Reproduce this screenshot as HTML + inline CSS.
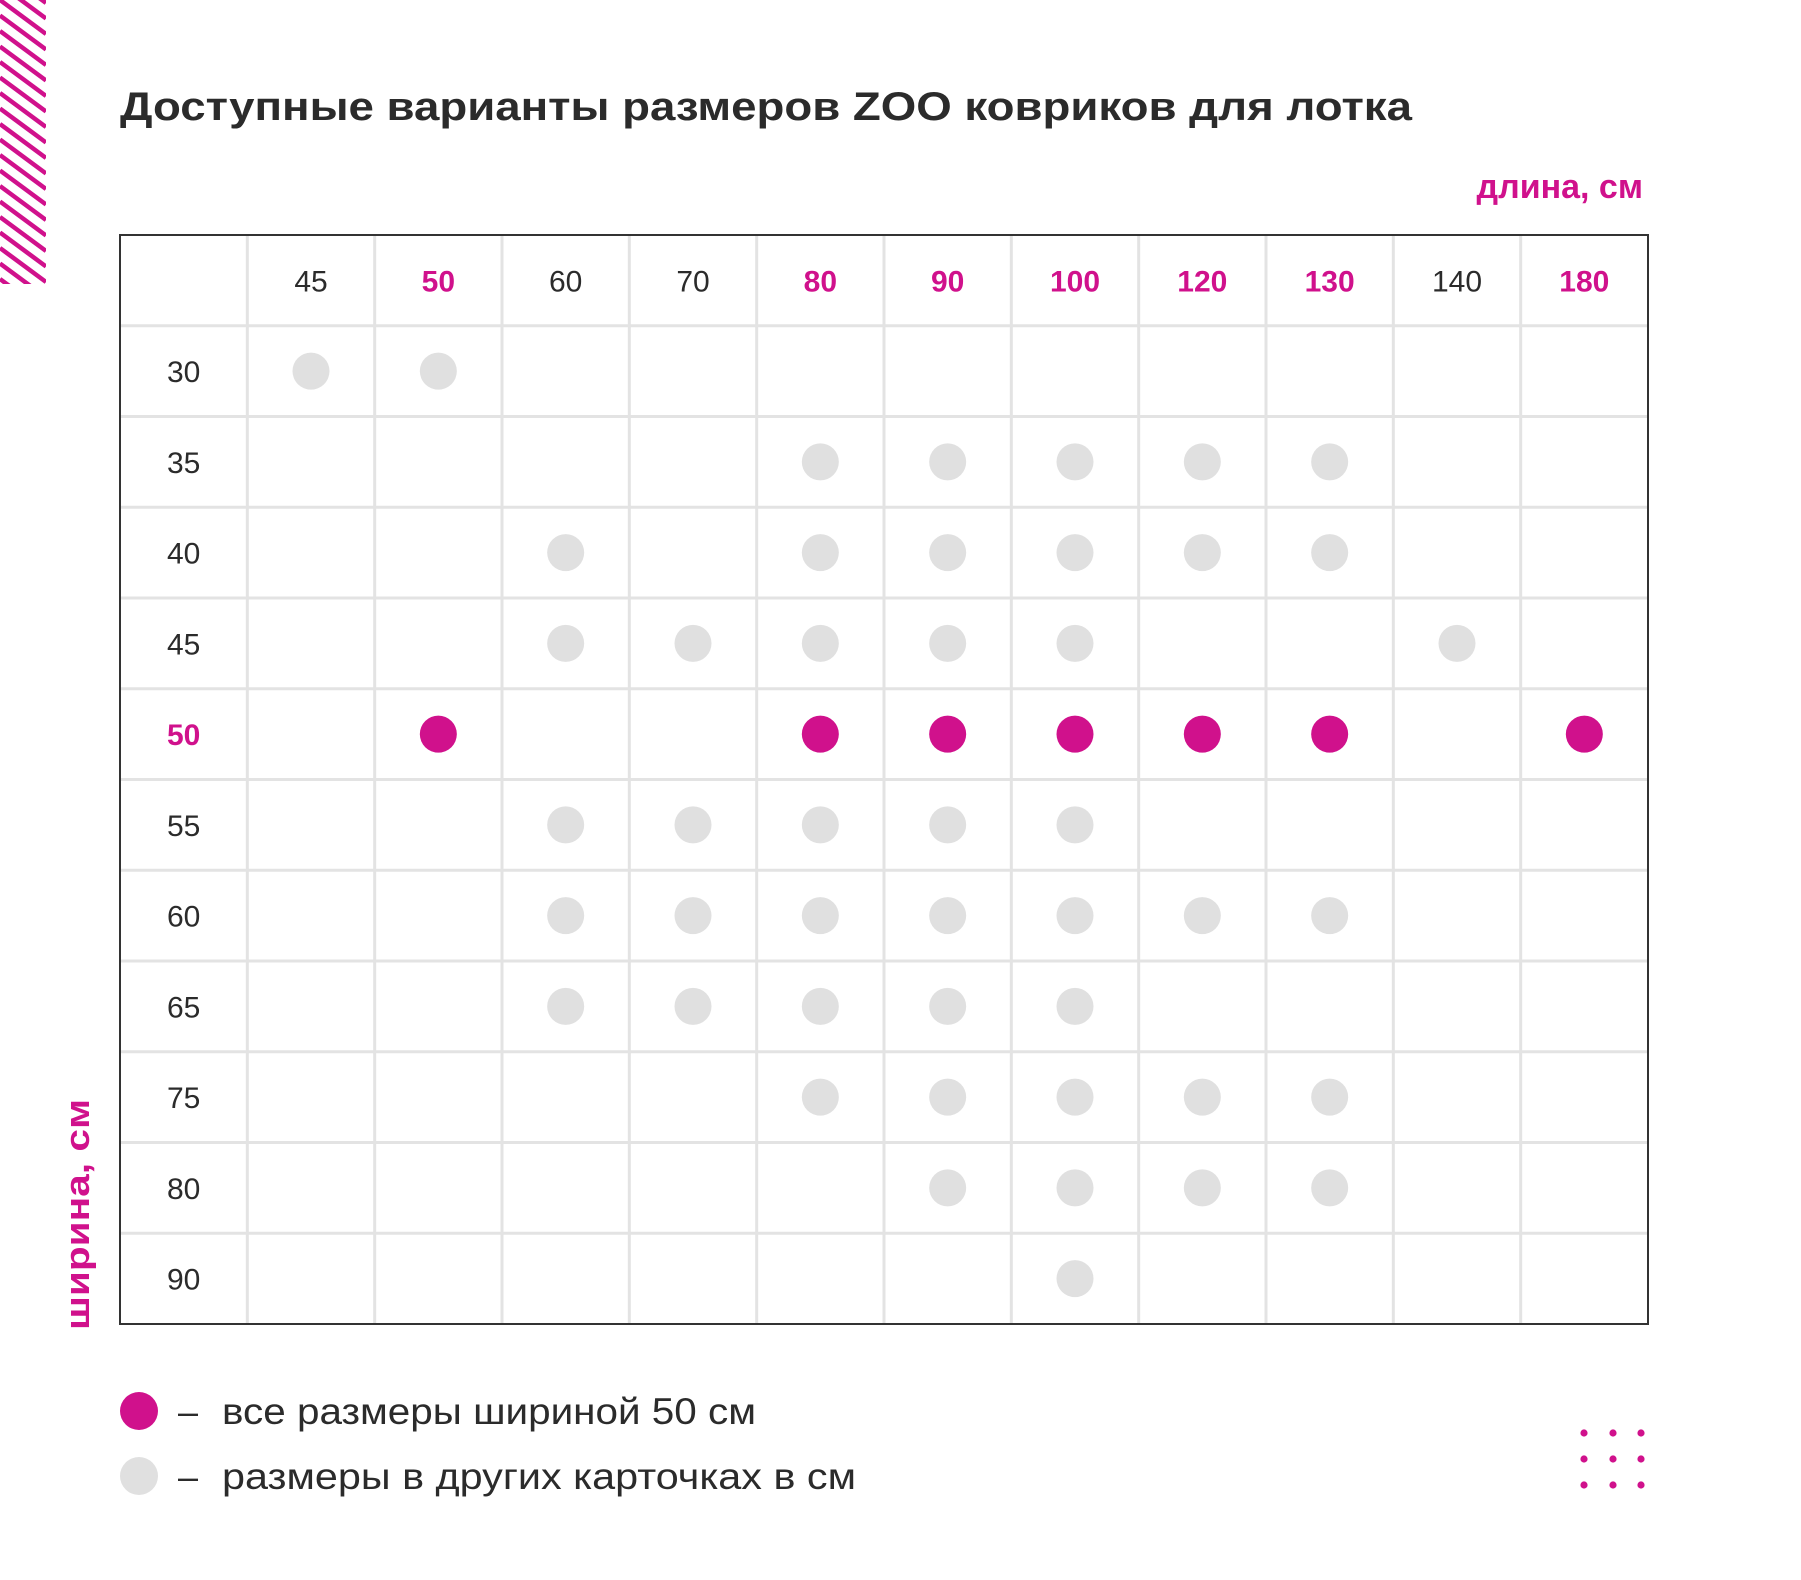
<!DOCTYPE html>
<html><head><meta charset="utf-8"><style>
html,body{margin:0;padding:0;background:#fff;}
svg{display:block;font-family:"Liberation Sans",sans-serif;}
</style></head><body>
<svg id="chart" width="1801" height="1580" viewBox="0 0 1801 1580" xmlns="http://www.w3.org/2000/svg">
<defs><clipPath id="stripeClip"><rect x="0" y="0" width="46" height="284"/></clipPath></defs>
<g id="stripes" clip-path="url(#stripeClip)"></g>
<text x="120" y="120" font-size="40" font-weight="bold" fill="#2b2b2b" textLength="1292" lengthAdjust="spacingAndGlyphs">Доступные варианты размеров ZOO ковриков для лотка</text>
<text x="1643" y="198" font-size="34" font-weight="bold" fill="#d0118c" text-anchor="end">длина, см</text>
<text transform="translate(89,1330) rotate(-90)" font-size="34" font-weight="bold" fill="#d0118c" textLength="231" lengthAdjust="spacingAndGlyphs">ширина, см</text>
<g id="grid"></g>
<g id="marks"></g>
<rect x="120" y="235" width="1528" height="1089" fill="none" stroke="#333" stroke-width="2"/>
<g>
<circle cx="139" cy="1411" r="19" fill="#d0118c"/>
<text x="178" y="1424" font-size="36" fill="#2b2b2b">–</text>
<text x="222" y="1424" font-size="37" fill="#2b2b2b" textLength="534" lengthAdjust="spacingAndGlyphs">все размеры шириной 50 см</text>
<circle cx="139" cy="1476" r="19" fill="#e0e0e0"/>
<text x="178" y="1489" font-size="36" fill="#2b2b2b">–</text>
<text x="222" y="1489" font-size="37" fill="#2b2b2b" textLength="634" lengthAdjust="spacingAndGlyphs">размеры в других карточках в см</text>
</g>
<g id="dots"></g>
</svg>
<script>
const columns = [45,50,60,70,80,90,100,120,130,140,180];
const rows = [30,35,40,45,50,55,60,65,75,80,90];
const highlightColumns = [50,80,90,100,120,130,180];
const highlightRow = 50;
const available = [
 [30,[45,50]],
 [35,[80,90,100,120,130]],
 [40,[60,80,90,100,120,130]],
 [45,[60,70,80,90,100,140]],
 [50,[50,80,90,100,120,130,180]],
 [55,[60,70,80,90,100]],
 [60,[60,70,80,90,100,120,130]],
 [65,[60,70,80,90,100]],
 [75,[80,90,100,120,130]],
 [80,[90,100,120,130]],
 [90,[100]]
];
const NS="http://www.w3.org/2000/svg";
const L=120,T=235,W=1528,H=1089,CW=W/(columns.length+1),RH=H/(rows.length+1);
function xCol(i){return L+CW*(i+1)+CW/2;}
function yRow(i){return T+RH*(i+1)+RH/2;}
function mk(tag,attrs,parent){const e=document.createElementNS(NS,tag);for(const k in attrs)e.setAttribute(k,attrs[k]);parent.appendChild(e);return e;}
const grid=document.getElementById('grid'),marks=document.getElementById('marks');
for(let i=1;i<=columns.length;i++){
 const ln=mk('line',{x1:L+CW*i,x2:L+CW*i,y1:T,y2:T+H,stroke:'#e3e3e3','stroke-width':3},grid);
 
 
}
for(let j=1;j<=rows.length;j++){
 const ln=mk('line',{x1:L,x2:L+W,y1:T+RH*j,y2:T+RH*j,stroke:'#e3e3e3','stroke-width':3},grid);
 
 
}
columns.forEach((c,i)=>{
 const hl=highlightColumns.includes(c);
 const t=mk('text',{x:xCol(i),y:T+RH/2+11,'text-anchor':'middle','font-size':30,'font-weight':hl?'bold':'normal',fill:hl?'#d0118c':'#2b2b2b'},marks);
 t.textContent=c;
 
 
});
rows.forEach((r,j)=>{
 const hl=r===highlightRow;
 const t=mk('text',{x:L+CW/2,y:yRow(j)+11,'text-anchor':'middle','font-size':30,'font-weight':hl?'bold':'normal',fill:hl?'#d0118c':'#2b2b2b'},marks);
 t.textContent=r;
 
 
});
available.forEach(([r,cols])=>{
 const j=rows.indexOf(r);
 cols.forEach(c=>{
  const i=columns.indexOf(c);
  const hl=r===highlightRow;
  const d=mk('circle',{cx:xCol(i),cy:yRow(j),r:18.5,fill:hl?'#d0118c':'#e0e0e0'},marks);
  
  
 });
});
const stripes=document.getElementById('stripes');
for(let k=-6;k<22;k++){
 const y0=k*15.5;
 const s=mk('line',{x1:0,y1:y0,x2:46,y2:y0+34,stroke:'#d0118c','stroke-width':4.5},stripes);
 
 
}
const dots=document.getElementById('dots');
[1584,1613,1641].forEach(x=>[1433,1459,1485].forEach(y=>{
 const d=mk('circle',{cx:x,cy:y,r:3.6,fill:'#d0118c'},dots);
 
 
}));
</script>
</body></html>
